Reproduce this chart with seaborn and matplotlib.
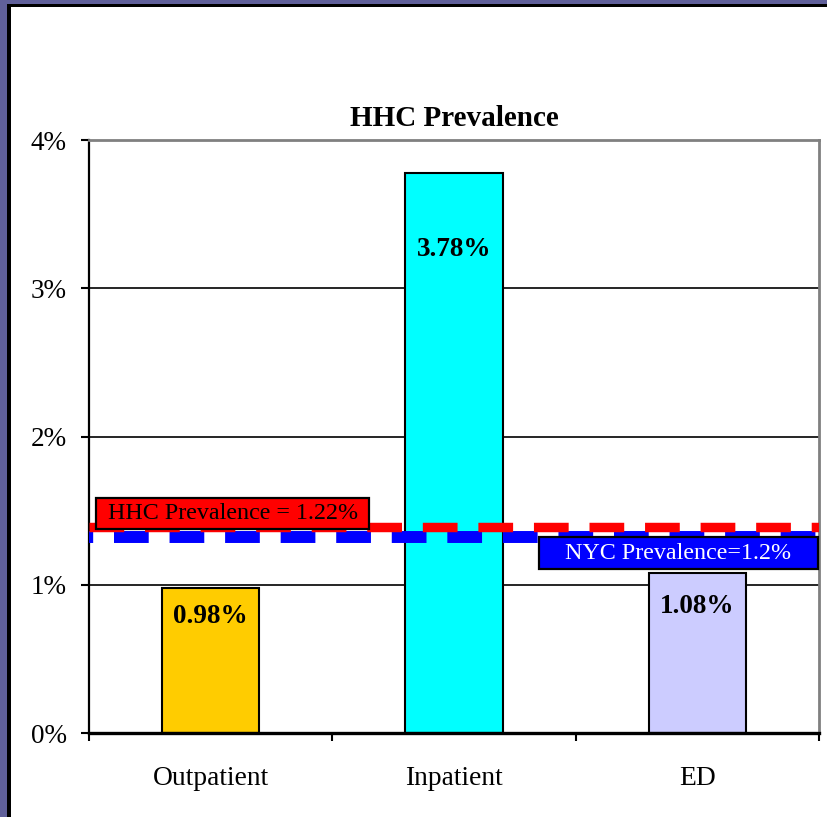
import matplotlib
matplotlib.use("Agg")
import matplotlib.pyplot as plt
import seaborn as sns
from matplotlib.patches import Rectangle
from matplotlib.ticker import FuncFormatter, MultipleLocator, FixedLocator

# data (percent)
categories = ["Outpatient", "Inpatient", "ED"]
prevalence = [0.98, 3.78, 1.08]
bar_labels = ["0.98%", "3.78%", "1.08%"]
bar_colors = ["#FFCC00", "#00FFFF", "#CCCCFF"]

# reference lines as drawn on the chart
hhc_line = 1.39
nyc_line = 1.32
hhc_text = "HHC Prevalence = 1.22%"
nyc_text = "NYC Prevalence=1.2%"

sns.set_style("white")
plt.rcParams["font.family"] = ["Liberation Serif", "DejaVu Serif"]
plt.rcParams["lines.scale_dashes"] = False
plt.rcParams["text.color"] = "black"
plt.rcParams["xtick.color"] = "black"
plt.rcParams["ytick.color"] = "black"
plt.rcParams["axes.labelcolor"] = "black"

fig = plt.figure(figsize=(8.28, 8.17), dpi=100)
fig.patch.set_facecolor("white")
ax = fig.add_axes([0.1075, 0.1028, 0.8815, 0.7258])

sns.barplot(x=categories, y=prevalence, hue=categories, palette=bar_colors,
            saturation=1, width=0.4, edgecolor="black", linewidth=1.5,
            legend=False, ax=ax, zorder=2)

ax.set_xlim(-0.5, 2.5)
ax.set_ylim(0, 4)
ax.yaxis.set_major_locator(MultipleLocator(1))
ax.yaxis.set_major_formatter(FuncFormatter(lambda v, p: f"{v:.0f}%"))
ax.yaxis.grid(True, color="black", linewidth=1.2)
ax.set_axisbelow(True)
ax.set_xlabel("")
ax.set_ylabel("")

# ticks between categories, labels at centres
ax.xaxis.set_minor_locator(FixedLocator([-0.5, 0.5, 1.5, 2.5]))
ax.tick_params(which="both", bottom=True, left=True)
ax.tick_params(axis="x", which="major", length=0, pad=24, labelsize=19.8)
ax.tick_params(axis="x", which="minor", length=6, width=1.5, direction="out", color="black")
ax.tick_params(axis="y", length=6, width=1.5, direction="out", color="black", pad=10, labelsize=19.5)

for side in ["top", "right"]:
    ax.spines[side].set_color("#808080")
    ax.spines[side].set_linewidth(2)
ax.spines["left"].set_color("black")
ax.spines["left"].set_linewidth(1.6)
ax.spines["bottom"].set_color("black")
ax.spines["bottom"].set_linewidth(2.4)

ax.set_title("HHC Prevalence", fontsize=21, fontweight="bold", pad=10)

# value labels inside bars
label_offsets = [-29, -77, -34]
for i, (val, lab) in enumerate(zip(prevalence, bar_labels)):
    ax.annotate(lab, xy=(i, val), xytext=(0, label_offsets[i] * 0.72),
                textcoords="offset points", ha="center", va="center",
                fontsize=19.5, fontweight="bold", zorder=5)

# reference lines
ax.axhline(nyc_line, color="#0000FF", linewidth=8.6,
           linestyle=(22, (25, 15)), zorder=3)
ax.axhline(hhc_line, color="#FF0000", linewidth=6.8,
           linestyle=(0, (25, 15)), zorder=3.1)

# label boxes
ax.add_patch(Rectangle((0.0096, 0.344), 0.374, 0.052, transform=ax.transAxes,
                       facecolor="#FF0000", edgecolor="black", linewidth=1.6,
                       zorder=4, clip_on=False))
ax.text(0.197, 0.370, hhc_text, transform=ax.transAxes, ha="center", va="center",
        fontsize=17.3, color="black", zorder=5)
ax.add_patch(Rectangle((0.616, 0.2766), 0.383, 0.054, transform=ax.transAxes,
                       facecolor="#0000FF", edgecolor="black", linewidth=1.6,
                       zorder=4, clip_on=False))
ax.text(0.807, 0.3035, nyc_text, transform=ax.transAxes, ha="center", va="center",
        fontsize=17.3, color="white", zorder=5)

# slide frame (top and left edges)
frame = "#60609A"
fig.patches.append(Rectangle((0, 1 - 4 / 817), 1, 4 / 817, transform=fig.transFigure,
                             facecolor=frame, edgecolor="none", zorder=0))
fig.patches.append(Rectangle((0, 1 - 7 / 817), 1, 3 / 817, transform=fig.transFigure,
                             facecolor="black", edgecolor="none", zorder=0))
fig.patches.append(Rectangle((0, 0), 7 / 828, 1, transform=fig.transFigure,
                             facecolor=frame, edgecolor="none", zorder=0))
fig.patches.append(Rectangle((7 / 828, 0), 4 / 828, 1 - 4 / 817, transform=fig.transFigure,
                             facecolor="black", edgecolor="none", zorder=0))

fig.savefig("out.png", dpi=100, facecolor=fig.get_facecolor())
